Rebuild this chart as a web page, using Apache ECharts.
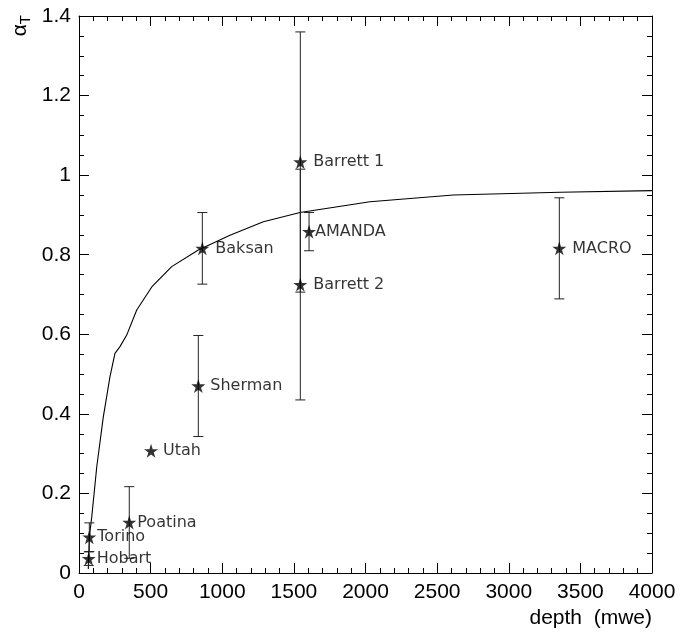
<!DOCTYPE html>
<html><head><meta charset="utf-8">
<script src="https://cdn.jsdelivr.net/npm/echarts@6/dist/echarts.min.js"></script>
<style>html,body{margin:0;padding:0;background:#fff}#c{width:681px;height:632px}</style>
</head><body><div id="c"></div>
<script>
const names = ['Hobart','Torino','Poatina','Utah','Sherman','Baksan','Barrett 1','Barrett 2','AMANDA','MACRO'];
const depth = [68, 72, 351, 503, 833, 861, 1545, 1545, 1606, 3353];
const alphaT = [0.036, 0.09, 0.127, 0.307, 0.47, 0.816, 1.033, 0.725, 0.858, 0.816];
const errs = [0.017, 0.036, 0.09, 0, 0.127, 0.09, 0.327, 0.29, 0.048, 0.127];
const labelGap = [1, 1, 1, 5, 5, 6, 6, 6, -1, 6];
const curveX = [65, 72, 89, 124, 170, 216, 251, 286, 333, 403, 508, 647, 833, 1054, 1287, 1543, 2031, 2613, 3358, 4000];
const curveY = [0.01, 0.09, 0.141, 0.267, 0.393, 0.493, 0.552, 0.569, 0.598, 0.661, 0.719, 0.770, 0.812, 0.849, 0.883, 0.906, 0.933, 0.950, 0.957, 0.961];
const xTicks = [0, 500, 1000, 1500, 2000, 2500, 3000, 3500, 4000];
const yTicks = [0, 0.2, 0.4, 0.6, 0.8, 1, 1.2, 1.4];

const star = 'path://M50,0 L61.2,34.5 L97.6,34.5 L68.2,55.9 L79.4,90.5 L50,69.1 L20.6,90.5 L31.8,55.9 L2.4,34.5 L38.8,34.5 Z';
const font = 'Liberation Sans, Arial, sans-serif';

const chart = echarts.init(document.getElementById('c'));
const axisLine = {show:true, onZero:false, lineStyle:{color:'#000', width:1}};
const xBase = {type:'value', min:0, max:4000, interval:500,
  splitLine:{show:false}, axisLine:axisLine,
  axisTick:{inside:true, length:10, lineStyle:{color:'#000'}},
  minorTick:{show:true, splitNumber:5, length:5, lineStyle:{color:'#000'}}};
const yBase = {type:'value', min:0, max:1.4, interval:0.2,
  splitLine:{show:false}, axisLine:axisLine,
  axisTick:{inside:true, length:10, lineStyle:{color:'#000'}},
  minorTick:{show:true, splitNumber:4, length:5, lineStyle:{color:'#000'}}};

chart.setOption({
  animation:false,
  backgroundColor:'#fff',
  grid:{left:79, right:29, top:16, bottom:59, containLabel:false},
  xAxis:[
    Object.assign({}, xBase, {position:'bottom',
      axisLabel:{fontFamily:font, fontSize:21, color:'#000', margin:9,
        formatter:v => xTicks.includes(v) ? String(v) : ''},
      name:'depth  (mwe)', nameLocation:'end', nameGap:0,
      nameTextStyle:{fontFamily:font, fontSize:21, color:'#000', align:'right', verticalAlign:'top', padding:[35,0,0,0]}}),
    Object.assign({}, xBase, {position:'top', axisLabel:{show:false}})
  ],
  yAxis:[
    Object.assign({}, yBase, {position:'left',
      axisLabel:{fontFamily:font, fontSize:21, color:'#000', margin:8,
        formatter:v => { const t = yTicks.find(k => Math.abs(k - v) < 1e-9); return t === undefined ? '' : String(t); }}}),
    Object.assign({}, yBase, {position:'right', axisLabel:{show:false}})
  ],
  graphic:[{
    type:'text', left:10, top:15, rotation:Math.PI/2,
    style:{text:'{a|α}{t|T}', rich:{
      a:{fontFamily:font, fontSize:21, fill:'#000'},
      t:{fontFamily:font, fontSize:15, fill:'#000', padding:[10,0,0,0]}}}
  }],
  series:[
    {type:'line', data:curveX.map((x,i)=>[x, curveY[i]]), showSymbol:false, symbol:'none',
      lineStyle:{color:'#000', width:1.1}, z:2, silent:true},
    {type:'custom', z:3, silent:true,
      data:depth.map((d,i)=>[d, alphaT[i], errs[i]]).filter(r=>r[2]>0),
      renderItem:function(params, api){
        const x = api.value(0), y = api.value(1), e = api.value(2);
        const top = api.coord([x, y+e]), bot = api.coord([x, y-e]);
        const w = 5;
        const st = {stroke:'#222', lineWidth:1};
        return {type:'group', children:[
          {type:'line', shape:{x1:top[0], y1:top[1], x2:bot[0], y2:bot[1]}, style:st},
          {type:'line', shape:{x1:top[0]-w, y1:top[1], x2:top[0]+w, y2:top[1]}, style:st},
          {type:'line', shape:{x1:bot[0]-w, y1:bot[1], x2:bot[0]+w, y2:bot[1]}, style:st}
        ]};
      }},
    {type:'scatter', z:4, symbol:star, symbolSize:14, silent:true,
      itemStyle:{color:'#000'},
      data:depth.map((d,i)=>({value:[d, alphaT[i]], label:{distance:labelGap[i]}, name:names[i]})),
      label:{show:true, position:'right', formatter:p=>p.name,
        fontFamily:'DejaVu Sans, sans-serif', fontSize:16, color:'#000'}}
  ]
});
</script></body></html>
